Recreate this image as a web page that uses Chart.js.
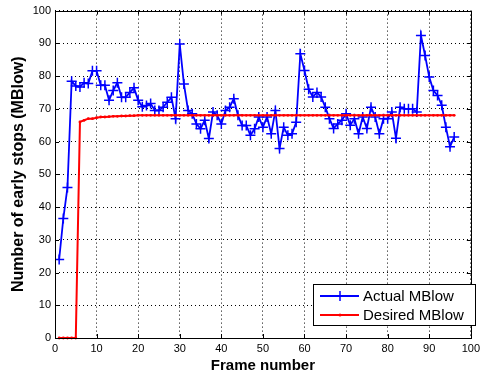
<!DOCTYPE html>
<html>
<head>
<meta charset="utf-8">
<script src="https://cdn.jsdelivr.net/npm/chart.js@4.4.1/dist/chart.umd.min.js"></script>
<style>
  body { margin: 0; background: #fff; }
  canvas { display: block; }
</style>
</head>
<body>
<canvas id="mblowChart" width="484" height="380"></canvas>
<script>
// frame index (x) for both series
const frames = [
  1, 2, 3, 4, 5, 6, 7, 8, 9, 10, 11, 12, 13, 14, 15, 16, 17, 18, 19, 20,
  21, 22, 23, 24, 25, 26, 27, 28, 29, 30, 31, 32, 33, 34, 35, 36, 37, 38, 39, 40,
  41, 42, 43, 44, 45, 46, 47, 48, 49, 50, 51, 52, 53, 54, 55, 56, 57, 58, 59, 60,
  61, 62, 63, 64, 65, 66, 67, 68, 69, 70, 71, 72, 73, 74, 75, 76, 77, 78, 79, 80,
  81, 82, 83, 84, 85, 86, 87, 88, 89, 90, 91, 92, 93, 94, 95, 96
];

const actualMBlow = [
  24, 36.5, 46, 78.4, 77, 76.7, 78, 77.7, 81.6, 81.6,
  77.2, 77.2, 72.6, 75.6, 78, 73.5, 73.5, 75, 76.4, 72.6,
  70.6, 71, 71.6, 69.5, 69.5, 70.5, 72, 73.5, 67, 89.8,
  77.6, 69.5, 68.5, 65.4, 63.9, 66.5, 60.9, 69, 68, 65.4,
  69.5, 70.5, 73.1, 68, 64.9, 64.9, 61.9, 63.9, 67.5, 64.4,
  67.5, 62.4, 69.5, 57.9, 64.4, 61.9, 62.4, 65.9, 86.8, 81.7,
  76, 73.6, 75, 73.6, 70.5, 67, 64, 65.4, 66.5, 68.5,
  65, 67, 62.4, 67.5, 64, 70.5, 67.5, 62.4, 67, 67,
  69, 61, 70.5, 70, 70, 70, 69, 92.4, 86.3, 79.7,
  75.6, 74.1, 71.1, 64.4, 58.4, 61.4
];

const desiredMBlow = [
  0, 0, 0, 0, 0, 66, 66.5, 67, 67, 67.3,
  67.5, 67.5, 67.6, 67.7, 67.7, 67.8, 67.8, 67.9, 67.9, 68,
  68, 68, 68, 68, 68, 68, 68, 68, 68, 68,
  68, 68, 68, 68, 68, 68, 68, 68, 68, 68,
  68, 68, 68, 68, 68, 68, 68, 68, 68, 68,
  68, 68, 68, 68, 68, 68, 68, 68, 68, 68,
  68, 68, 68, 68, 68, 68, 68, 68, 68, 68,
  68, 68, 68, 68, 68, 68, 68, 68, 68, 68,
  68, 68, 68, 68, 68, 68, 68, 68, 68, 68,
  68, 68, 68, 68, 68, 68
];

const xTicks = [0, 10, 20, 30, 40, 50, 60, 70, 80, 90, 100];
const yTicks = [0, 10, 20, 30, 40, 50, 60, 70, 80, 90, 100];

const FONT = '"Liberation Sans", Arial, Helvetica, sans-serif';

function toPoints(xs, ys) {
  return xs.map((x, i) => ({ x: x, y: ys[i] }));
}

// box round the axes, inward ticks (matlab style) and the legend
const matlabFrame = {
  id: 'matlabFrame',
  afterDraw(chart) {
    const ctx = chart.ctx;
    const a = chart.chartArea;
    const sx = chart.scales.x;
    const sy = chart.scales.y;
    ctx.save();
    ctx.setLineDash([]);
    ctx.strokeStyle = '#000';
    ctx.lineWidth = 1;

    // ticks
    ctx.beginPath();
    xTicks.forEach(v => {
      const px = Math.round(sx.getPixelForValue(v)) + 0.5;
      ctx.moveTo(px, a.bottom); ctx.lineTo(px, a.bottom - 4);
      ctx.moveTo(px, a.top); ctx.lineTo(px, a.top + 4);
    });
    yTicks.forEach(v => {
      const py = Math.round(sy.getPixelForValue(v)) + 0.5;
      ctx.moveTo(a.left, py); ctx.lineTo(a.left + 4, py);
      ctx.moveTo(a.right, py); ctx.lineTo(a.right - 4, py);
    });
    ctx.stroke();

    ctx.strokeRect(Math.round(a.left) + 0.5, Math.round(a.top) + 0.5,
      Math.round(a.right - a.left), Math.round(a.bottom - a.top));

    // legend, bottom right inside the axes
    const lx = 313, ly = 284, lw = 162, lh = 41;
    ctx.fillStyle = '#fff';
    ctx.fillRect(lx, ly, lw, lh);
    ctx.strokeRect(lx + 0.5, ly + 0.5, lw, lh);

    const rows = [
      { label: chart.data.datasets[1].label, color: '#0000ff', y: ly + 12, marker: 'cross' },
      { label: chart.data.datasets[0].label, color: '#ff0000', y: ly + 31, marker: 'dot' }
    ];
    rows.forEach(r => {
      ctx.strokeStyle = r.color;
      ctx.fillStyle = r.color;
      ctx.lineWidth = 2;
      ctx.beginPath();
      ctx.moveTo(lx + 7, r.y);
      ctx.lineTo(lx + 46, r.y);
      ctx.stroke();
      const cx = lx + 27;
      if (r.marker === 'cross') {
        ctx.lineWidth = 1.5;
        ctx.beginPath();
        ctx.moveTo(cx, r.y - 5); ctx.lineTo(cx, r.y + 5);
        ctx.stroke();
      } else {
        ctx.beginPath();
        ctx.arc(cx, r.y, 1.5, 0, Math.PI * 2);
        ctx.fill();
      }
      ctx.fillStyle = '#000';
      ctx.font = '15px ' + FONT;
      ctx.textBaseline = 'middle';
      ctx.textAlign = 'left';
      ctx.fillText(r.label, lx + 50, r.y + 1);
    });
    ctx.restore();
  }
};

new Chart(document.getElementById('mblowChart'), {
  type: 'line',
  data: {
    datasets: [
      {
        label: 'Desired MBlow',
        data: toPoints(frames, desiredMBlow),
        borderColor: '#ff0000',
        backgroundColor: '#ff0000',
        borderWidth: 2,
        pointStyle: 'circle',
        pointRadius: 1.4,
        pointBorderWidth: 0,
        tension: 0,
        fill: false,
        clip: false,
        order: 0
      },
      {
        label: 'Actual MBlow',
        data: toPoints(frames, actualMBlow),
        borderColor: '#0000ff',
        backgroundColor: '#0000ff',
        borderWidth: 1.8,
        pointStyle: 'cross',
        pointRadius: 5,
        pointBorderWidth: 1.5,
        tension: 0,
        fill: false,
        order: 1
      }
    ]
  },
  options: {
    responsive: false,
    animation: false,
    devicePixelRatio: 1,
    layout: {
      padding: { left: 0, right: 10, top: 10, bottom: 0 }
    },
    plugins: {
      legend: { display: false },
      tooltip: { enabled: false }
    },
    scales: {
      x: {
        type: 'linear',
        min: 0,
        max: 100,
        afterFit: function(scale) { scale.height = 42; },
        afterBuildTicks: function(scale) {
          scale.ticks = xTicks.map(v => ({ value: v }));
        },
        grid: {
          color: '#000',
          lineWidth: 1,
          drawTicks: false
        },
        border: { display: false, dash: [1, 3] },
        ticks: {
          padding: 4,
          color: '#000',
          font: { family: FONT, size: 11 },
          maxRotation: 0
        },
        title: {
          display: true,
          text: 'Frame number',
          color: '#000',
          font: { family: FONT, size: 15, weight: 'bold' },
          padding: { top: 0, bottom: 5 }
        }
      },
      y: {
        type: 'linear',
        min: 0,
        max: 100,
        afterFit: function(scale) { scale.width = 55; },
        afterBuildTicks: function(scale) {
          scale.ticks = yTicks.map(v => ({ value: v }));
        },
        grid: {
          color: '#000',
          lineWidth: 1,
          drawTicks: false
        },
        border: { display: false, dash: [1, 3] },
        ticks: {
          padding: 4,
          color: '#000',
          font: { family: FONT, size: 11 }
        },
        title: {
          display: true,
          text: 'Number of early stops (MBlow)',
          color: '#000',
          font: { family: FONT, size: 16, weight: 'bold' },
          padding: { top: 9, bottom: 0 }
        }
      }
    }
  },
  plugins: [matlabFrame]
});
</script>
</body>
</html>
